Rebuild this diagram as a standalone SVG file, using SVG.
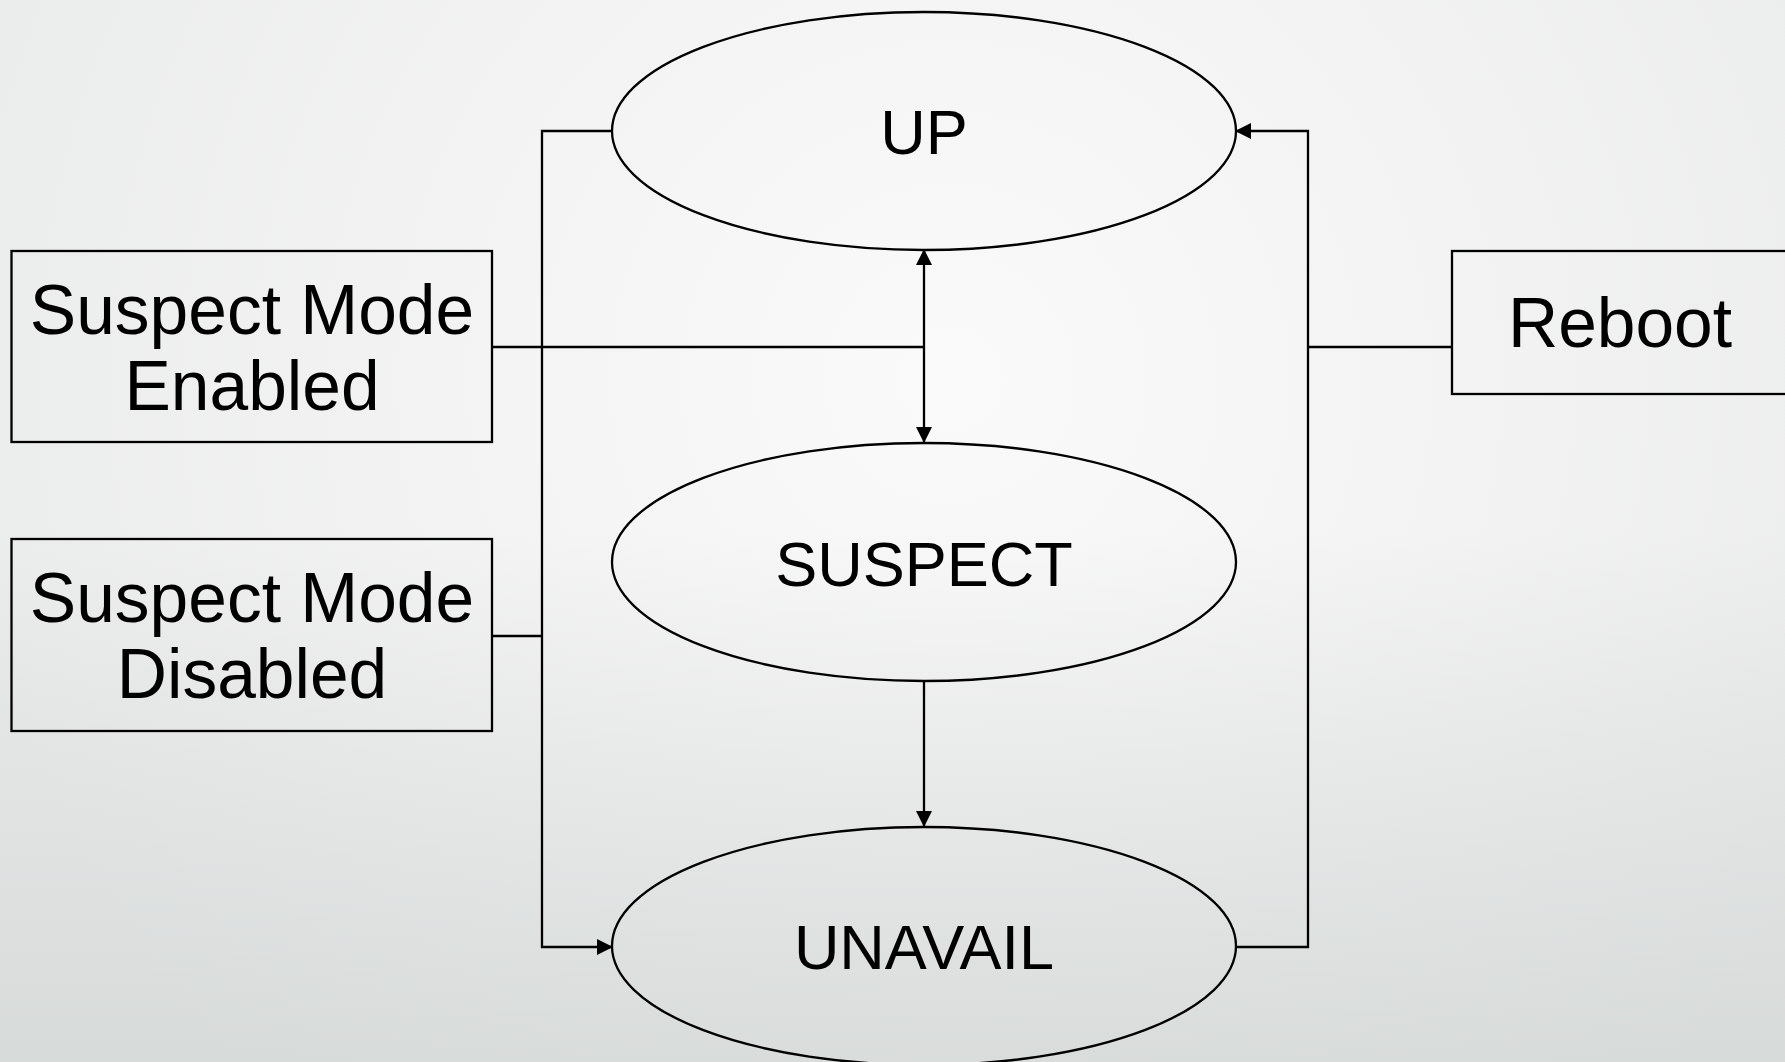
<svg xmlns="http://www.w3.org/2000/svg" width="1785" height="1062" viewBox="0 0 1785 1062">
  <defs>
    <radialGradient id="bg" gradientUnits="userSpaceOnUse" cx="950" cy="380" r="1000">
      <stop offset="0" stop-color="#fafafa"/>
      <stop offset="1" stop-color="#ebecec"/>
    </radialGradient>
    <linearGradient id="shade" x1="0" y1="0" x2="0" y2="1">
      <stop offset="0.5" stop-color="#c9cfcd" stop-opacity="0"/>
      <stop offset="1" stop-color="#c9cfcd" stop-opacity="0.6"/>
    </linearGradient>
    <marker id="arr" viewBox="0 0 16 16" refX="15" refY="8" markerWidth="16" markerHeight="16" markerUnits="userSpaceOnUse" orient="auto-start-reverse">
      <path d="M0,0 L16,8 L0,16 Z" fill="#000"/>
    </marker>
  </defs>
  <style>
    .shape { fill: none; stroke: #000; stroke-width: 2.3; }
    .conn { fill: none; stroke: #000; stroke-width: 2.3; }
    .lbl { font-family: "Liberation Sans", Arial, sans-serif; fill: #000; text-anchor: middle; }
    .big { font-size: 69.5px; }
    .state { font-size: 63px; }
  </style>
  <rect x="0" y="0" width="1785" height="1062" fill="url(#bg)"/>
  <rect x="0" y="0" width="1785" height="1062" fill="url(#shade)"/>

  <g id="connectors">
    <polyline class="conn" points="612,131 542,131 542,947 612,947" marker-end="url(#arr)"/>
    <polyline class="conn" points="1236,947 1308,947 1308,131 1236,131" marker-end="url(#arr)"/>
    <line class="conn" x1="924" y1="250" x2="924" y2="442" marker-start="url(#arr)" marker-end="url(#arr)"/>
    <line class="conn" x1="924" y1="682" x2="924" y2="826" marker-end="url(#arr)"/>
    <line class="conn" x1="492" y1="347" x2="924" y2="347"/>
    <line class="conn" x1="492" y1="636" x2="542" y2="636"/>
    <line class="conn" x1="1308" y1="347" x2="1452" y2="347"/>
  </g>

  <g id="node-up">
    <ellipse class="shape" cx="924" cy="131" rx="312" ry="119"/>
    <text class="lbl state" x="924" y="154">UP</text>
  </g>
  <g id="node-suspect">
    <ellipse class="shape" cx="924" cy="562" rx="312" ry="119"/>
    <text class="lbl state" x="924" y="586">SUSPECT</text>
  </g>
  <g id="node-unavail">
    <ellipse class="shape" cx="924" cy="946" rx="312" ry="119"/>
    <text class="lbl state" x="924" y="969">UNAVAIL</text>
  </g>
  <g id="node-enabled">
    <rect class="shape" x="11.5" y="251" width="480.5" height="191"/>
    <text class="lbl big" x="252" y="334">Suspect Mode</text>
    <text class="lbl big" x="252" y="410">Enabled</text>
  </g>
  <g id="node-disabled">
    <rect class="shape" x="11.5" y="539" width="480.5" height="192"/>
    <text class="lbl big" x="252" y="622">Suspect Mode</text>
    <text class="lbl big" x="252" y="698">Disabled</text>
  </g>
  <g id="node-reboot">
    <rect class="shape" x="1452" y="251" width="336" height="143"/>
    <text class="lbl big" x="1620" y="347">Reboot</text>
  </g>
</svg>
